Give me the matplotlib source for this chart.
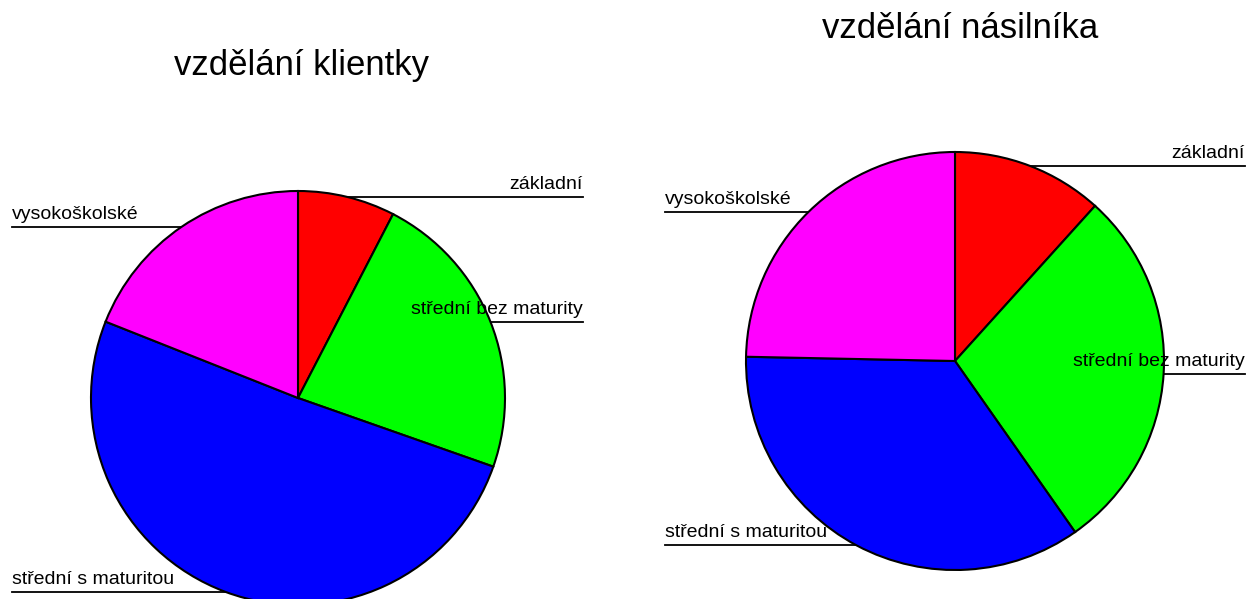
import numpy as np
import matplotlib.pyplot as plt

plt.rcParams['font.family'] = ['Liberation Sans', 'DejaVu Sans']

# education categories and counts
categories = ['základní', 'střední bez maturity', 'střední s maturitou', 'vysokoškolské']
client_counts = [6, 18, 40, 15]
abuser_counts = [9, 22, 27, 19]
titles = ['vzdělání klientky', 'vzdělání násilníka']
colors = ['#FF0000', '#00FF00', '#0000FF', '#FF00FF']

W, H = 1247, 599
fig = plt.figure(figsize=(W / 100, H / 100), dpi=100)
ax = fig.add_axes([0, 0, 1, 1])

# layout for each pie: center, radius, label x-limits, title position
pies = [
    dict(counts=client_counts, title=titles[0], center=(298, H - 398), r=207,
         left_x=12, right_x=583, title_xy=(302, H - 66)),
    dict(counts=abuser_counts, title=titles[1], center=(955, H - 361), r=209,
         left_x=665, right_x=1245, title_xy=(960, H - 28)),
]

for p in pies:
    wedges, _ = ax.pie(p['counts'], colors=colors, startangle=90, counterclock=False,
                       center=p['center'], radius=p['r'], frame=True,
                       wedgeprops=dict(edgecolor='black', linewidth=1.5))
    cx, cy = p['center']
    for w, lab in zip(wedges, categories):
        mid = np.deg2rad((w.theta1 + w.theta2) / 2)
        px = cx + p['r'] * np.cos(mid)
        py = cy + p['r'] * np.sin(mid)
        if np.cos(mid) < 0:
            ax.plot([p['left_x'], px], [py, py], color='black', lw=1.3, zorder=0)
            ax.text(p['left_x'], py + 4, lab, ha='left', va='bottom', fontsize=14, zorder=5)
        else:
            ax.plot([px, p['right_x']], [py, py], color='black', lw=1.3, zorder=0)
            ax.text(p['right_x'], py + 4, lab, ha='right', va='bottom', fontsize=14, zorder=5)
    ax.text(*p['title_xy'], p['title'], ha='center', va='center', fontsize=25)

ax.set_xlim(0, W)
ax.set_ylim(0, H)
ax.set_aspect('auto')
ax.axis('off')

fig.savefig('out.png', dpi=100)
